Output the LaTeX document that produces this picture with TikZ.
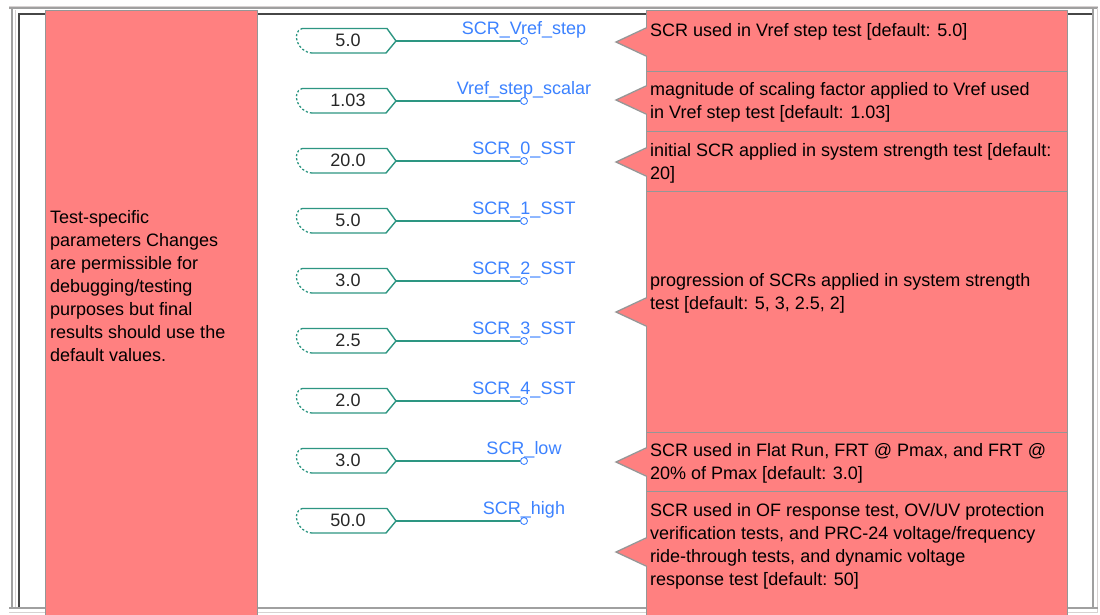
\documentclass[tikz,border=0pt]{standalone}
\usepackage{fontspec}
\setmainfont{Liberation Sans}
\definecolor{pinkc}{RGB}{255,128,128}
\definecolor{boxgray}{RGB}{150,150,150}
\definecolor{tealc}{RGB}{45,150,130}
\definecolor{bluec}{RGB}{60,130,255}
\definecolor{darkframe}{RGB}{70,70,70}
\definecolor{midframe}{RGB}{160,160,160}
\definecolor{lightframe}{RGB}{215,210,210}
\begin{document}
\begin{tikzpicture}[x=1pt,y=-1pt,
  pinkbox/.style={draw=boxgray, fill=pinkc, line width=0.8pt, inner sep=0pt, outer sep=0pt},
  boxtext/.style={anchor=north west, inner sep=0pt, align=left, text=black, font=\fontsize{18}{23}\selectfont},
  valtext/.style={anchor=base, inner sep=0pt, text=black!85, font=\fontsize{18}{22}\selectfont},
  lbltext/.style={anchor=base, inner sep=0pt, text=bluec, font=\fontsize{18}{22}\selectfont},
  port/.style={circle, draw=bluec, line width=0.9pt, inner sep=0pt, minimum size=7pt},
  wire/.style={draw=tealc, line width=1.4pt},
  pointer/.style={draw=boxgray, line width=1.3pt, line join=miter}
]
\useasboundingbox (0,0) rectangle (1100,614);
\fill[white] (0,0) rectangle (1100,614);

% frame
\draw[lightframe, line width=1pt] (9,6) -- (1098,6);
\draw[midframe, line width=1.2pt] (9,8) -- (1098,8);
\draw[midframe, line width=1.5pt] (12,8) -- (12,608);
\draw[lightframe, line width=1pt] (15.5,10) -- (15.5,607);
\draw[darkframe, line width=1.3pt] (19,608) -- (19,14) -- (1092,14);
\draw[midframe, line width=1.5pt] (1093,8) -- (1093,608);
\draw[lightframe, line width=1pt] (1097,8) -- (1097,612);
\draw[midframe, line width=1.5pt] (9,608) -- (1098,608);
\draw[lightframe, line width=1pt] (9,612) -- (1098,612);

% left comment box
\node[pinkbox, anchor=north west, minimum width=212pt, minimum height=620pt] (lbox) at (45,10) {};
\node[boxtext] (ltext) at (50,210) {Test-specific\\parameters Changes\\are permissible for\\debugging/testing\\purposes but final\\results should use the\\default values.};

% right comment boxes
\node[pinkbox, anchor=north west, minimum width=421pt, minimum height=61pt] (r1) at (646,10) {};
\node[pinkbox, anchor=north west, minimum width=421pt, minimum height=60pt] (r2) at (646,71) {};
\node[pinkbox, anchor=north west, minimum width=421pt, minimum height=60pt] (r3) at (646,131) {};
\node[pinkbox, anchor=north west, minimum width=421pt, minimum height=241pt] (r4) at (646,191) {};
\node[pinkbox, anchor=north west, minimum width=421pt, minimum height=59pt] (r5) at (646,432) {};
\node[pinkbox, anchor=north west, minimum width=421pt, minimum height=140pt] (r6) at (646,491) {};

% pointers
\foreach \ty in {42,100,162,312,462,552}{
  \fill[pinkc] (647.5,\ty-14) -- (616,\ty) -- (647.5,\ty+14) -- cycle;
  \draw[pointer] (646,\ty-14) -- (616,\ty) -- (646,\ty+14);
}

\node[boxtext] (t1) at (650,23) {SCR used in Vref step test [default: 5.0]};
\node[boxtext] (t2) at (650,82) {magnitude of scaling factor applied to Vref used\\in Vref step test [default: 1.03]};
\node[boxtext] (t3) at (650,143) {initial SCR applied in system strength test [default:\\20]};
\node[boxtext] (t4) at (650,273) {progression of SCRs applied in system strength\\test [default: 5, 3, 2.5, 2]};
\node[boxtext] (t5) at (650,443) {SCR used in Flat Run, FRT @ Pmax, and FRT @\\20\% of Pmax [default: 3.0]};
\node[boxtext] (t6) at (650,503) {SCR used in OF response test, OV/UV protection\\verification tests, and PRC-24 voltage/frequency\\ride-through tests, and dynamic voltage\\response test [default: 50]};

% inputs
\foreach \c/\v/\l/\n in {41/5.0/SCR\_Vref\_step/1, 101/1.03/Vref\_step\_scalar/2, 161/20.0/SCR\_0\_SST/3,
  221/5.0/SCR\_1\_SST/4, 281/3.0/SCR\_2\_SST/5, 341/2.5/SCR\_3\_SST/6, 401/2.0/SCR\_4\_SST/7,
  461/3.0/SCR\_low/8, 521/50.0/SCR\_high/9}{
  \draw[wire, line join=miter] (302,\c-12.5) -- (387,\c-12.5) -- (396,\c) -- (386,\c+12) -- (312,\c+12);
  \draw[draw=tealc, line width=1.3pt, dash pattern=on 2.2pt off 2pt] (312,\c+12) .. controls (297,\c+11) and (291,\c-9) .. (302,\c-12.5);
  \node[valtext] (v\n) at (348,\c+5.5) {\v};
  \coordinate (tip\n) at (396,\c);
  \node[port] (p\n) at (524,\c) {};
  \draw[wire] (tip\n) -- (p\n.west);
  \node[lbltext] (l\n) at (524,\c-7) {\l};
}
\end{tikzpicture}
\end{document}
